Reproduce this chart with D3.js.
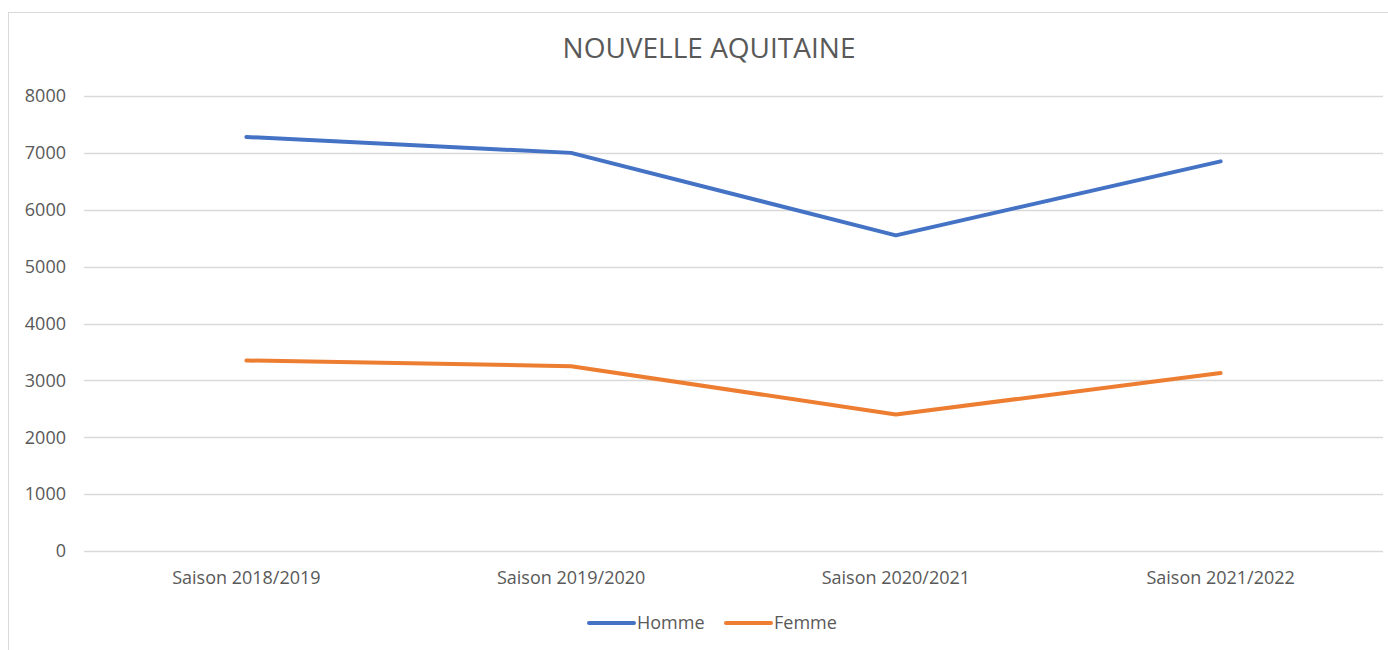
<!DOCTYPE html>
<html>
<head>
<meta charset="utf-8">
<script src="https://cdn.jsdelivr.net/npm/d3@7"></script>
<style>
  body { margin: 0; background: #fff; }
  svg { display: block; }
  svg text { font-family: "Open Sans", "Liberation Sans", sans-serif; }
</style>
</head>
<body>
<svg id="chart" width="1388" height="650"></svg>
<script>
// Saisons et effectifs
const saisons = ["Saison 2018/2019", "Saison 2019/2020", "Saison 2020/2021", "Saison 2021/2022"];
const homme = [7280, 7000, 5550, 6850];
const femme = [3350, 3250, 2400, 3130];
const yTicks = [0, 1000, 2000, 3000, 4000, 5000, 6000, 7000, 8000];

const series = [
    { name: "Homme", values: homme, color: "#4472C4" },
    { name: "Femme", values: femme, color: "#ED7D31" }
];

const svg = d3.select("#chart");
const margin = { top: 96, right: 5, bottom: 99, left: 84 };
const width = +svg.attr("width"), height = +svg.attr("height");

// chart border (Excel style)
svg.append("rect")
    .attr("x", 8.5).attr("y", 12.5)
    .attr("width", 1390).attr("height", 660)
    .attr("fill", "#fff").attr("stroke", "#d9d9d9").attr("stroke-width", 1);

const x = d3.scaleBand().domain(saisons).range([margin.left, width - margin.right]);
const y = d3.scaleLinear().domain([0, 8000]).range([height - margin.bottom, margin.top]);

// gridlines
svg.append("g")
    .selectAll("line")
    .data(yTicks)
    .join("line")
    .attr("x1", margin.left).attr("x2", width - margin.right)
    .attr("y1", d => Math.round(y(d)) + 0.5).attr("y2", d => Math.round(y(d)) + 0.5)
    .attr("stroke", "#d9d9d9").attr("stroke-width", 1.3);

// y axis labels
const yAxis = svg.append("g")
    .attr("transform", `translate(${margin.left},0)`)
    .call(d3.axisLeft(y).tickValues(yTicks).tickSize(0).tickPadding(18).tickFormat(d3.format("d")));
yAxis.attr("font-family", null).attr("font-size", null);
yAxis.select(".domain").remove();
yAxis.selectAll("text").attr("fill", "#595959").style("font-size", "18px");

// x axis labels
const xAxis = svg.append("g")
    .attr("transform", `translate(0,${y(0)})`)
    .call(d3.axisBottom(x).tickSize(0).tickPadding(20));
xAxis.attr("font-family", null).attr("font-size", null);
xAxis.select(".domain").remove();
xAxis.selectAll("text").attr("fill", "#595959").style("font-size", "18px");

// lines
const line = d3.line()
    .x((d, i) => x(saisons[i]) + x.bandwidth() / 2)
    .y(d => y(d));

svg.selectAll(".serie")
    .data(series)
    .join("path")
    .attr("class", "serie")
    .attr("fill", "none")
    .attr("stroke", d => d.color)
    .attr("stroke-width", 4)
    .attr("stroke-linecap", "round")
    .attr("stroke-linejoin", "round")
    .attr("d", d => line(d.values));

// title
svg.append("text")
    .attr("x", 709).attr("y", 58)
    .attr("text-anchor", "middle")
    .attr("fill", "#595959")
    .style("font-size", "28px")
    .text("NOUVELLE AQUITAINE");

// legend
const legendX = [589, 726];
const legend = svg.append("g");
series.forEach((s, i) => {
    const g = legend.append("g").attr("transform", `translate(${legendX[i]},623)`);
    g.append("line")
        .attr("x1", 0).attr("x2", 45)
        .attr("stroke", s.color).attr("stroke-width", 4).attr("stroke-linecap", "round");
    g.append("text")
        .attr("x", 48).attr("dy", "0.35em")
        .attr("fill", "#595959")
        .style("font-size", "18px")
        .text(s.name);
});
</script>
</body>
</html>
